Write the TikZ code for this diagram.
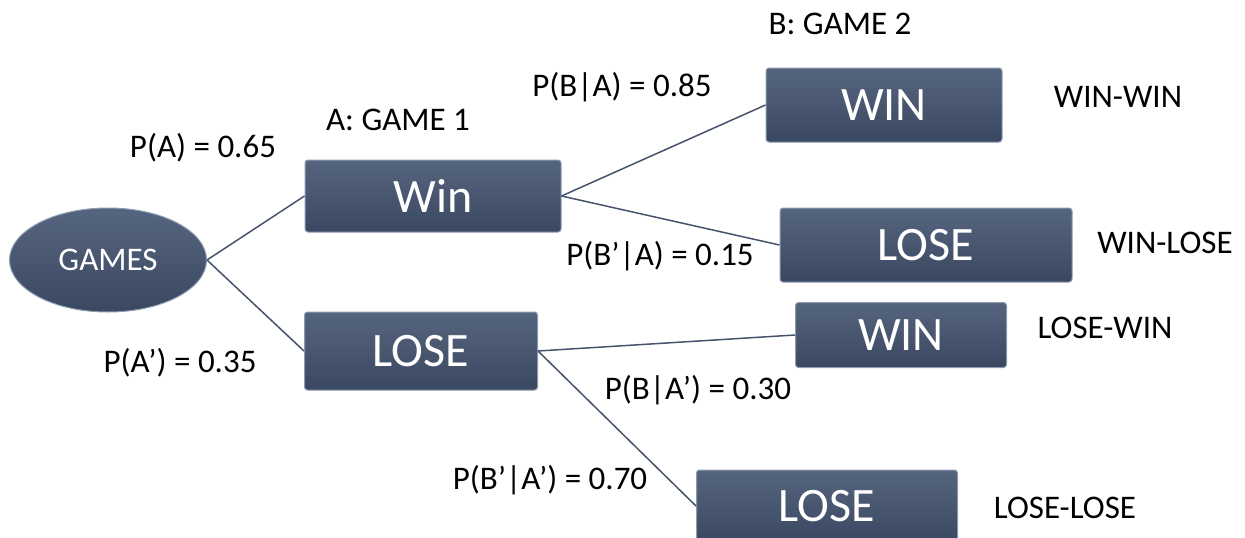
\documentclass[tikz,border=0pt]{standalone}
\usepackage{fontspec}
\setmainfont{Carlito}
\usetikzlibrary{shapes.geometric}
\usepackage{xcolor}
\definecolor{SlateTop}{HTML}{56657F}
\definecolor{SlateBottom}{HTML}{3A4760}
\definecolor{SlateEdge}{HTML}{8C9AB0}
\definecolor{SlateLine}{HTML}{46536A}

\begin{document}
\begin{tikzpicture}[x=1pt, y=-1pt,
    outcome/.style={draw=SlateEdge, line width=1pt, top color=SlateTop, bottom color=SlateBottom, rounded corners=3pt, text=white, font=\fontsize{48}{50}\selectfont, inner sep=0pt},
    prob/.style={font=\fontsize{33}{36}\selectfont, inner sep=0pt},
    branch/.style={SlateLine, line width=1.5pt}]
                \useasboundingbox (0,0) rectangle (1245,538);
                % Root
                \node[ellipse, draw=SlateEdge, line width=1pt, top color=SlateTop, bottom color=SlateBottom, text=white, font=\fontsize{33}{35}\selectfont, minimum width=197, minimum height=104, inner sep=0pt] (games) at (108, 260) {GAMES};
                
                % Game 1
                \node[outcome, minimum width=256, minimum height=72] (a1) at (433, 196) {Win};
                \node[outcome, minimum width=233, minimum height=78] (a2) at (421, 351) {LOSE};
                
                % Game 2
                \node[outcome, minimum width=236, minimum height=74] (b1) at (884, 105) {WIN};
                \node[outcome, minimum width=292, minimum height=74] (b2) at (926, 245) {LOSE};
                \node[outcome, minimum width=211, minimum height=65] (b3) at (901, 335) {WIN};
                \node[outcome, minimum width=261, minimum height=72] (b4) at (827, 506) {LOSE};
                
                % Branches
                \draw[branch] (games.east) -- (a1.west);
                \draw[branch] (games.east) -- (a2.west);
                \draw[branch] (a1.east) -- (b1.west);
                \draw[branch] (a1.east) -- (b2.west);
                \draw[branch] (a2.east) -- (b3.west);
                \draw[branch] (a2.east) -- (b4.west);
                
                % Headings
                \node[prob] (h1) at (398, 120) {A: GAME 1};
                \node[prob] (h2) at (840, 24) {B: GAME 2};
                
                % Probabilities
                \node[prob] (pa) at (203, 148) {P(A) = 0.65};
                \node[prob] (pna) at (180, 363) {P(A’) = 0.35};
                \node[prob] (pba) at (622, 87) {P(B|A) = 0.85};
                \node[prob] (pnba) at (660, 256) {P(B’|A) = 0.15};
                \node[prob] (pbna) at (698, 390) {P(B|A’) = 0.30};
                \node[prob] (pnbna) at (550, 480) {P(B’|A’) = 0.70};
                
                % Outcomes
                \node[prob] (o1) at (1118, 97) {WIN-WIN};
                \node[prob] (o2) at (1165, 243) {WIN-LOSE};
                \node[prob] (o3) at (1105, 328) {LOSE-WIN};
                \node[prob] (o4) at (1065, 508) {LOSE-LOSE};
            \end{tikzpicture}
\end{document}
